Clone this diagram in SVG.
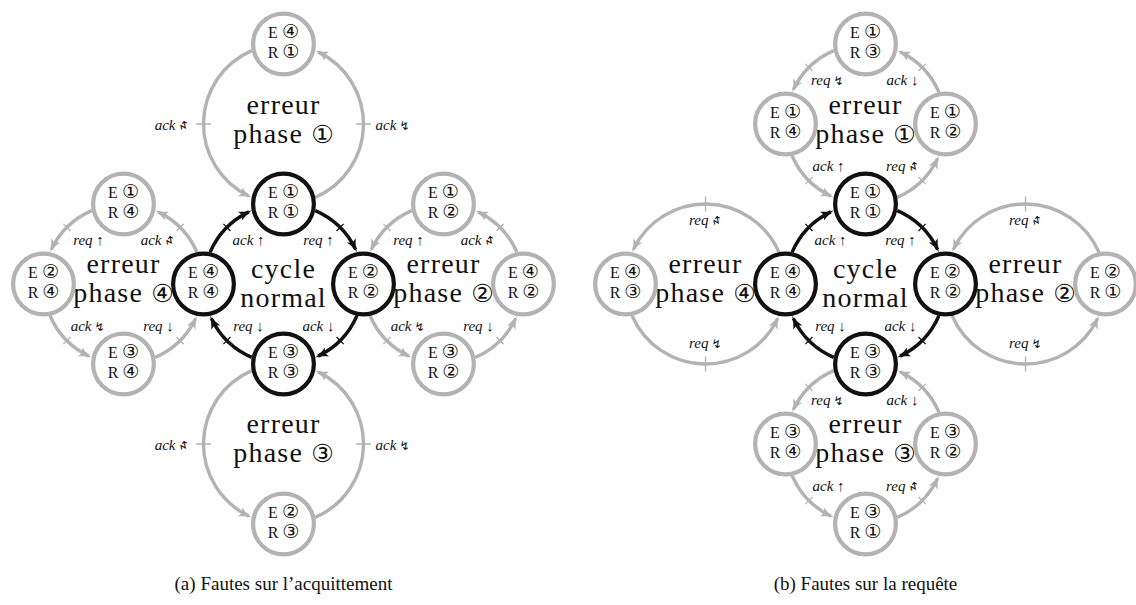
<svg xmlns="http://www.w3.org/2000/svg" width="1136" height="605" viewBox="0 0 1136 605">
<style>
.ag{fill:none;stroke:#b3b3b3;stroke-width:3.4}
.ak{fill:none;stroke:#111;stroke-width:3.4}
.tg{stroke:#b3b3b3;stroke-width:1.3}
.tk{stroke:#111;stroke-width:1.3}
.ng{fill:#fff;stroke:#b3b3b3;stroke-width:4.2}
.nk{fill:#fff;stroke:#111;stroke-width:4.2}
.nt{font-family:"Liberation Serif",serif;font-size:16px;text-anchor:middle;fill:#111}
.big{font-family:"Liberation Serif",serif;font-size:28px;letter-spacing:1.2px;text-anchor:middle;fill:#111}
.cd{font-family:"DejaVu Sans","Noto Sans CJK JP",sans-serif;font-size:19px;letter-spacing:0}
.cb{font-family:"DejaVu Sans","Noto Sans CJK JP",sans-serif;font-size:25px;letter-spacing:0}
.lb{font-family:"Liberation Serif",serif;font-style:italic;font-size:15px;fill:#111}
.lm{text-anchor:middle}
.le{text-anchor:end}
.zz{font-family:"DejaVu Sans",sans-serif;font-size:12px;fill:#111}
.cap{font-family:"Liberation Serif",serif;font-size:19px;text-anchor:middle;fill:#111}
</style>
<defs>
<marker id="mg" markerUnits="userSpaceOnUse" markerWidth="13" markerHeight="10" viewBox="0 0 13 10" refX="10" refY="5" orient="auto"><path d="M13,5 C9,5.8 4,7.5 0,10 L2.5,5 L0,0 C4,2.5 9,4.2 13,5 Z" fill="#b3b3b3"/></marker>
<marker id="mk" markerUnits="userSpaceOnUse" markerWidth="13" markerHeight="10" viewBox="0 0 13 10" refX="10" refY="5" orient="auto"><path d="M13,5 C9,5.8 4,7.5 0,10 L2.5,5 L0,0 C4,2.5 9,4.2 13,5 Z" fill="#111"/></marker>
</defs>

<!-- ============ (a) ============ -->
<g id="diagram-a" transform="translate(283.5,284)">
<g id="a-connectors">
  <path class="ak" marker-end="url(#mk)" d="M-73.42,-31.77 A80,80 0 0 1 -34.57,-72.15"/>
  <path class="ak" marker-end="url(#mk)" d="M31.77,-73.42 A80,80 0 0 1 72.15,-34.57"/>
  <path class="ak" marker-end="url(#mk)" d="M73.42,31.77 A80,80 0 0 1 34.57,72.15"/>
  <path class="ak" marker-end="url(#mk)" d="M-31.77,73.42 A80,80 0 0 1 -72.15,34.57"/>
  <path class="tk" d="M-53.03,-53.03 L-60.1,-60.1 M53.03,-53.03 L60.1,-60.1 M53.03,53.03 L60.1,60.1 M-53.03,53.03 L-60.1,60.1"/>
  <path class="ag" marker-end="url(#mg)" d="M-86.58,-31.77 A80,80 0 0 0 -125.43,-72.15"/>
  <path class="ag" marker-end="url(#mg)" d="M-191.77,-73.42 A80,80 0 0 0 -232.15,-34.57"/>
  <path class="ag" marker-end="url(#mg)" d="M-233.42,31.77 A80,80 0 0 0 -194.57,72.15"/>
  <path class="ag" marker-end="url(#mg)" d="M-128.23,73.42 A80,80 0 0 0 -87.85,34.57"/>
  <path class="tg" d="M-106.97,-53.03 L-99.9,-60.1 M-213.03,-53.03 L-220.1,-60.1 M-213.03,53.03 L-220.1,60.1 M-106.97,53.03 L-99.9,60.1"/>
  <path class="ag" marker-end="url(#mg)" d="M86.58,31.77 A80,80 0 0 0 125.43,72.15"/>
  <path class="ag" marker-end="url(#mg)" d="M191.77,73.42 A80,80 0 0 0 232.15,34.57"/>
  <path class="ag" marker-end="url(#mg)" d="M233.42,-31.77 A80,80 0 0 0 194.57,-72.15"/>
  <path class="ag" marker-end="url(#mg)" d="M128.23,-73.42 A80,80 0 0 0 87.85,-34.57"/>
  <path class="tg" d="M106.97,-53.03 L99.9,-60.1 M213.03,-53.03 L220.1,-60.1 M213.03,53.03 L220.1,60.1 M106.97,53.03 L99.9,60.1"/>
  <path class="ag" marker-end="url(#mg)" d="M31.77,-86.58 A80,80 0 0 0 34.57,-232.15"/>
  <path class="ag" marker-end="url(#mg)" d="M-31.77,-233.42 A80,80 0 0 0 -34.57,-87.85"/>
  <path class="tg" d="M72.5,-160 L87.5,-160 M-87.5,-160 L-72.5,-160"/>
  <path class="ag" marker-end="url(#mg)" d="M-31.77,86.58 A80,80 0 0 0 -34.57,232.15"/>
  <path class="ag" marker-end="url(#mg)" d="M31.77,233.42 A80,80 0 0 0 34.57,87.85"/>
  <path class="tg" d="M72.5,160 L87.5,160 M-87.5,160 L-72.5,160"/>

  <text class="lb lm" x="-35" y="-39">ack ↑</text>
  <text class="lb lm" x="35" y="-39">req ↑</text>
  <text class="lb lm" x="-35" y="47">req ↓</text>
  <text class="lb lm" x="35" y="47">ack ↓</text>

  <text class="lb lm" x="-195" y="-39">req ↑</text>
  <text class="lb le" x="-122" y="-39">ack</text><text class="zz" transform="translate(-119,-39) scale(1,-1)" y="9">↯</text>
  <text class="lb le" x="-192" y="47">ack</text><text class="zz" x="-189" y="47">↯</text>
  <text class="lb lm" x="-125" y="47">req ↓</text>

  <text class="lb lm" x="125" y="-39">req ↑</text>
  <text class="lb le" x="198" y="-39">ack</text><text class="zz" transform="translate(201,-39) scale(1,-1)" y="9">↯</text>
  <text class="lb le" x="128" y="47">ack</text><text class="zz" x="131" y="47">↯</text>
  <text class="lb lm" x="195" y="47">req ↓</text>

  <text class="lb le" x="-108" y="-154">ack</text><text class="zz" transform="translate(-105,-154) scale(1,-1)" y="9">↯</text>
  <text class="lb" x="92" y="-154">ack</text><text class="zz" x="116" y="-154">↯</text>

  <text class="lb le" x="-108" y="166">ack</text><text class="zz" transform="translate(-105,166) scale(1,-1)" y="9">↯</text>
  <text class="lb" x="92" y="166">ack</text><text class="zz" x="116" y="166">↯</text>
</g>

<g id="a-regions">
  <text class="big"><tspan x="0" y="-6">cycle</tspan><tspan x="0" y="23">normal</tspan></text>
  <text class="big"><tspan x="0" y="-170">erreur</tspan><tspan x="0" y="-141">phase <tspan class="cb">①</tspan></tspan></text>
  <text class="big"><tspan x="160" y="-11">erreur</tspan><tspan x="160" y="18">phase <tspan class="cb">②</tspan></tspan></text>
  <text class="big"><tspan x="0" y="149">erreur</tspan><tspan x="0" y="178">phase <tspan class="cb">③</tspan></tspan></text>
  <text class="big"><tspan x="-160" y="-11">erreur</tspan><tspan x="-160" y="18">phase <tspan class="cb">④</tspan></tspan></text>
</g>

<g id="a-E1R1"><circle class="nk" cx="0" cy="-80" r="30.4"/><text class="nt"><tspan x="0" y="-86">E <tspan class="cd">①</tspan></tspan><tspan x="0" y="-66">R <tspan class="cd">①</tspan></tspan></text></g>
<g id="a-E2R2"><circle class="nk" cx="80" cy="0" r="30.4"/><text class="nt"><tspan x="80" y="-6">E <tspan class="cd">②</tspan></tspan><tspan x="80" y="14">R <tspan class="cd">②</tspan></tspan></text></g>
<g id="a-E3R3"><circle class="nk" cx="0" cy="80" r="30.4"/><text class="nt"><tspan x="0" y="74">E <tspan class="cd">③</tspan></tspan><tspan x="0" y="94">R <tspan class="cd">③</tspan></tspan></text></g>
<g id="a-E4R4"><circle class="nk" cx="-80" cy="0" r="30.4"/><text class="nt"><tspan x="-80" y="-6">E <tspan class="cd">④</tspan></tspan><tspan x="-80" y="14">R <tspan class="cd">④</tspan></tspan></text></g>
<g id="a-E4R1"><circle class="ng" cx="0" cy="-240" r="30.4"/><text class="nt"><tspan x="0" y="-246">E <tspan class="cd">④</tspan></tspan><tspan x="0" y="-226">R <tspan class="cd">①</tspan></tspan></text></g>
<g id="a-E1R2"><circle class="ng" cx="160" cy="-80" r="30.4"/><text class="nt"><tspan x="160" y="-86">E <tspan class="cd">①</tspan></tspan><tspan x="160" y="-66">R <tspan class="cd">②</tspan></tspan></text></g>
<g id="a-E4R2"><circle class="ng" cx="240" cy="0" r="30.4"/><text class="nt"><tspan x="240" y="-6">E <tspan class="cd">④</tspan></tspan><tspan x="240" y="14">R <tspan class="cd">②</tspan></tspan></text></g>
<g id="a-E3R2"><circle class="ng" cx="160" cy="80" r="30.4"/><text class="nt"><tspan x="160" y="74">E <tspan class="cd">③</tspan></tspan><tspan x="160" y="94">R <tspan class="cd">②</tspan></tspan></text></g>
<g id="a-E2R3"><circle class="ng" cx="0" cy="240" r="30.4"/><text class="nt"><tspan x="0" y="234">E <tspan class="cd">②</tspan></tspan><tspan x="0" y="254">R <tspan class="cd">③</tspan></tspan></text></g>
<g id="a-E1R4"><circle class="ng" cx="-160" cy="-80" r="30.4"/><text class="nt"><tspan x="-160" y="-86">E <tspan class="cd">①</tspan></tspan><tspan x="-160" y="-66">R <tspan class="cd">④</tspan></tspan></text></g>
<g id="a-E2R4"><circle class="ng" cx="-240" cy="0" r="30.4"/><text class="nt"><tspan x="-240" y="-6">E <tspan class="cd">②</tspan></tspan><tspan x="-240" y="14">R <tspan class="cd">④</tspan></tspan></text></g>
<g id="a-E3R4"><circle class="ng" cx="-160" cy="80" r="30.4"/><text class="nt"><tspan x="-160" y="74">E <tspan class="cd">③</tspan></tspan><tspan x="-160" y="94">R <tspan class="cd">④</tspan></tspan></text></g>
</g>

<!-- ============ (b) ============ -->
<g id="diagram-b" transform="translate(865.5,284)">
<g id="b-connectors">
  <path class="ak" marker-end="url(#mk)" d="M-73.42,-31.77 A80,80 0 0 1 -34.57,-72.15"/>
  <path class="ak" marker-end="url(#mk)" d="M31.77,-73.42 A80,80 0 0 1 72.15,-34.57"/>
  <path class="ak" marker-end="url(#mk)" d="M73.42,31.77 A80,80 0 0 1 34.57,72.15"/>
  <path class="ak" marker-end="url(#mk)" d="M-31.77,73.42 A80,80 0 0 1 -72.15,34.57"/>
  <path class="tk" d="M-53.03,-53.03 L-60.1,-60.1 M53.03,-53.03 L60.1,-60.1 M53.03,53.03 L60.1,60.1 M-53.03,53.03 L-60.1,60.1"/>
  <path class="ag" marker-end="url(#mg)" d="M31.77,-86.58 A80,80 0 0 0 72.15,-125.43"/>
  <path class="ag" marker-end="url(#mg)" d="M73.42,-191.77 A80,80 0 0 0 34.57,-232.15"/>
  <path class="ag" marker-end="url(#mg)" d="M-31.77,-233.42 A80,80 0 0 0 -72.15,-194.57"/>
  <path class="ag" marker-end="url(#mg)" d="M-73.42,-128.23 A80,80 0 0 0 -34.57,-87.85"/>
  <path class="tg" d="M53.03,-106.97 L60.1,-99.9 M53.03,-213.03 L60.1,-220.1 M-53.03,-213.03 L-60.1,-220.1 M-53.03,-106.97 L-60.1,-99.9"/>
  <path class="ag" marker-end="url(#mg)" d="M-31.77,86.58 A80,80 0 0 0 -72.15,125.43"/>
  <path class="ag" marker-end="url(#mg)" d="M-73.42,191.77 A80,80 0 0 0 -34.57,232.15"/>
  <path class="ag" marker-end="url(#mg)" d="M31.77,233.42 A80,80 0 0 0 72.15,194.57"/>
  <path class="ag" marker-end="url(#mg)" d="M73.42,128.23 A80,80 0 0 0 34.57,87.85"/>
  <path class="tg" d="M-53.03,106.97 L-60.1,99.9 M-53.03,213.03 L-60.1,220.1 M53.03,213.03 L60.1,220.1 M53.03,106.97 L60.1,99.9"/>
  <path class="ag" marker-end="url(#mg)" d="M-86.58,-31.77 A80,80 0 0 0 -232.15,-34.57"/>
  <path class="ag" marker-end="url(#mg)" d="M-233.42,31.77 A80,80 0 0 0 -87.85,34.57"/>
  <path class="tg" d="M-160,-87.5 L-160,-72.5 M-160,72.5 L-160,87.5"/>
  <path class="ag" marker-end="url(#mg)" d="M233.42,-31.77 A80,80 0 0 0 87.85,-34.57"/>
  <path class="ag" marker-end="url(#mg)" d="M86.58,31.77 A80,80 0 0 0 232.15,34.57"/>
  <path class="tg" d="M160,-87.5 L160,-72.5 M160,72.5 L160,87.5"/>

  <text class="lb lm" x="-35" y="-39">ack ↑</text>
  <text class="lb lm" x="35" y="-39">req ↑</text>
  <text class="lb lm" x="-35" y="47">req ↓</text>
  <text class="lb lm" x="35" y="47">ack ↓</text>

  <text class="lb le" x="-35" y="-199">req</text><text class="zz" x="-32" y="-199">↯</text>
  <text class="lb lm" x="37" y="-199">ack ↓</text>
  <text class="lb lm" x="-37" y="-113">ack ↑</text>
  <text class="lb le" x="40" y="-113">req</text><text class="zz" transform="translate(43,-113) scale(1,-1)" y="9">↯</text>

  <text class="lb le" x="-35" y="121">req</text><text class="zz" x="-32" y="121">↯</text>
  <text class="lb lm" x="37" y="121">ack ↓</text>
  <text class="lb lm" x="-37" y="207">ack ↑</text>
  <text class="lb le" x="40" y="207">req</text><text class="zz" transform="translate(43,207) scale(1,-1)" y="9">↯</text>

  <text class="lb le" x="-157" y="-59">req</text><text class="zz" transform="translate(-154,-59) scale(1,-1)" y="9">↯</text>
  <text class="lb le" x="-157" y="64">req</text><text class="zz" x="-154" y="64">↯</text>
  <text class="lb le" x="163" y="-59">req</text><text class="zz" transform="translate(166,-59) scale(1,-1)" y="9">↯</text>
  <text class="lb le" x="163" y="64">req</text><text class="zz" x="166" y="64">↯</text>
</g>

<g id="b-regions">
  <text class="big"><tspan x="0" y="-6">cycle</tspan><tspan x="0" y="23">normal</tspan></text>
  <text class="big"><tspan x="0" y="-170">erreur</tspan><tspan x="0" y="-141">phase <tspan class="cb">①</tspan></tspan></text>
  <text class="big"><tspan x="160" y="-11">erreur</tspan><tspan x="160" y="18">phase <tspan class="cb">②</tspan></tspan></text>
  <text class="big"><tspan x="0" y="149">erreur</tspan><tspan x="0" y="178">phase <tspan class="cb">③</tspan></tspan></text>
  <text class="big"><tspan x="-160" y="-11">erreur</tspan><tspan x="-160" y="18">phase <tspan class="cb">④</tspan></tspan></text>
</g>

<g id="b-E1R1"><circle class="nk" cx="0" cy="-80" r="30.4"/><text class="nt"><tspan x="0" y="-86">E <tspan class="cd">①</tspan></tspan><tspan x="0" y="-66">R <tspan class="cd">①</tspan></tspan></text></g>
<g id="b-E2R2"><circle class="nk" cx="80" cy="0" r="30.4"/><text class="nt"><tspan x="80" y="-6">E <tspan class="cd">②</tspan></tspan><tspan x="80" y="14">R <tspan class="cd">②</tspan></tspan></text></g>
<g id="b-E3R3"><circle class="nk" cx="0" cy="80" r="30.4"/><text class="nt"><tspan x="0" y="74">E <tspan class="cd">③</tspan></tspan><tspan x="0" y="94">R <tspan class="cd">③</tspan></tspan></text></g>
<g id="b-E4R4"><circle class="nk" cx="-80" cy="0" r="30.4"/><text class="nt"><tspan x="-80" y="-6">E <tspan class="cd">④</tspan></tspan><tspan x="-80" y="14">R <tspan class="cd">④</tspan></tspan></text></g>
<g id="b-E1R2"><circle class="ng" cx="80" cy="-160" r="30.4"/><text class="nt"><tspan x="80" y="-166">E <tspan class="cd">①</tspan></tspan><tspan x="80" y="-146">R <tspan class="cd">②</tspan></tspan></text></g>
<g id="b-E1R3"><circle class="ng" cx="0" cy="-240" r="30.4"/><text class="nt"><tspan x="0" y="-246">E <tspan class="cd">①</tspan></tspan><tspan x="0" y="-226">R <tspan class="cd">③</tspan></tspan></text></g>
<g id="b-E1R4"><circle class="ng" cx="-80" cy="-160" r="30.4"/><text class="nt"><tspan x="-80" y="-166">E <tspan class="cd">①</tspan></tspan><tspan x="-80" y="-146">R <tspan class="cd">④</tspan></tspan></text></g>
<g id="b-E2R1"><circle class="ng" cx="240" cy="0" r="30.4"/><text class="nt"><tspan x="240" y="-6">E <tspan class="cd">②</tspan></tspan><tspan x="240" y="14">R <tspan class="cd">①</tspan></tspan></text></g>
<g id="b-E3R4"><circle class="ng" cx="-80" cy="160" r="30.4"/><text class="nt"><tspan x="-80" y="154">E <tspan class="cd">③</tspan></tspan><tspan x="-80" y="174">R <tspan class="cd">④</tspan></tspan></text></g>
<g id="b-E3R1"><circle class="ng" cx="0" cy="240" r="30.4"/><text class="nt"><tspan x="0" y="234">E <tspan class="cd">③</tspan></tspan><tspan x="0" y="254">R <tspan class="cd">①</tspan></tspan></text></g>
<g id="b-E3R2"><circle class="ng" cx="80" cy="160" r="30.4"/><text class="nt"><tspan x="80" y="154">E <tspan class="cd">③</tspan></tspan><tspan x="80" y="174">R <tspan class="cd">②</tspan></tspan></text></g>
<g id="b-E4R3"><circle class="ng" cx="-240" cy="0" r="30.4"/><text class="nt"><tspan x="-240" y="-6">E <tspan class="cd">④</tspan></tspan><tspan x="-240" y="14">R <tspan class="cd">③</tspan></tspan></text></g>
</g>

<g id="captions">
  <text class="cap" x="283.5" y="590">(a) Fautes sur l’acquittement</text>
  <text class="cap" x="865.5" y="590">(b) Fautes sur la requête</text>
</g>
</svg>
